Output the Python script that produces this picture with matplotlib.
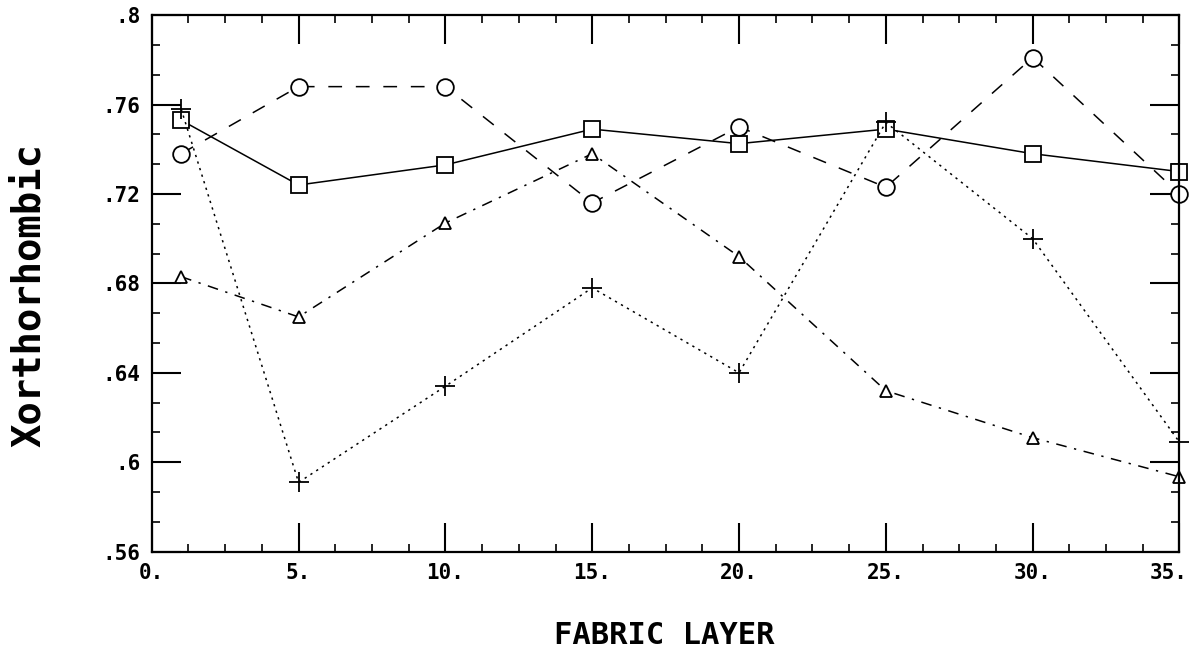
import matplotlib
matplotlib.use('Agg')
import matplotlib.pyplot as plt
import matplotlib.transforms as mtransforms
from matplotlib.ticker import MultipleLocator, FuncFormatter

# values
layer = [1, 5, 10, 15, 20, 25, 30, 35]
squares = [0.753, 0.724, 0.733, 0.749, 0.7425, 0.749, 0.738, 0.730]
circles = [0.738, 0.768, 0.768, 0.716, 0.750, 0.723, 0.781, 0.720]
triangles = [0.683, 0.665, 0.707, 0.738, 0.692, 0.632, 0.611, 0.5935]
pluses = [0.758, 0.591, 0.634, 0.678, 0.640, 0.752, 0.700, 0.609]

plt.rcParams['font.family'] = ['DejaVu Sans Mono']
plt.rcParams['font.weight'] = 'bold'

fig = plt.figure(figsize=(11.95, 6.56), dpi=100)
ax = fig.add_axes([0.127, 0.159, 0.86, 0.818])

common = dict(color='black', lw=1.1, mfc='white', mec='black', mew=1.3, clip_on=False)
ax.plot(layer, squares, ls='-', marker='s', ms=11, **common)
ax.plot(layer, circles, ls=(0, (9, 9)), marker='o', ms=12, **common)
ax.plot(layer, triangles, ls=(0, (7, 5, 1.5, 5)), marker='^', ms=8, **common)
ax.plot(layer, pluses, ls=(0, (1.5, 3)), marker='+', ms=14, **common)

ax.set_xlim(0, 35)
ax.set_ylim(0.56, 0.8)

ax.xaxis.set_major_locator(MultipleLocator(5))
ax.xaxis.set_minor_locator(MultipleLocator(1.25))
ax.yaxis.set_major_locator(MultipleLocator(0.04))
ax.yaxis.set_minor_locator(MultipleLocator(0.04 / 3))
ax.xaxis.set_major_formatter(FuncFormatter(lambda v, p: f"{int(round(v))}."))
ax.yaxis.set_major_formatter(FuncFormatter(lambda v, p: f"{v:.2f}".rstrip('0').lstrip('0')))

ax.tick_params(which='both', direction='in', top=True, right=True)
ax.tick_params(which='major', length=21, width=1.5, labelsize=15, pad=8)
ax.tick_params(which='minor', length=6, width=1.2)

for sp in ax.spines.values():
    sp.set_linewidth(1.6)

# axis titles placed like the reference
fig.text(0.556, 0.032, 'FABRIC LAYER', fontsize=22, fontweight='bold',
         ha='center', va='center')
fig.text(0.024, 0.55, 'Xorthorhombic', fontsize=28, fontweight='bold',
         ha='center', va='center', rotation=90)

# keep "35." inside the figure: draw once, then nudge the last label left
fig.canvas.draw()
for tick in ax.xaxis.get_major_ticks():
    if tick.label1.get_text() == '35.':
        lab = tick.label1
        lab.set_transform(lab.get_transform()
                          + mtransforms.ScaledTranslation(-8 / 72, 0, fig.dpi_scale_trans))

fig.savefig('out.png', dpi=100)
